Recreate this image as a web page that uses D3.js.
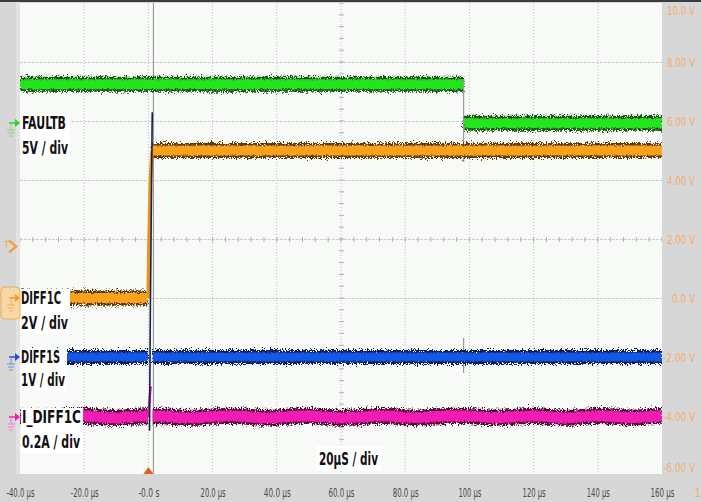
<!DOCTYPE html>
<html><head><meta charset="utf-8">
<script src="https://cdn.jsdelivr.net/npm/d3@7"></script>
<style>
html,body{margin:0;padding:0;background:#fff;}
svg{display:block;}
</style></head><body>
<svg id="c" width="701" height="502"></svg>
<script>
// ---------------- data ----------------
const xTickValues = [-40,-20,0,20,40,60,80,100,120,140,160];
const xTickLabels = ["-40.0 µs","-20.0 µs","-0.0 s","20.0 µs","40.0 µs","60.0 µs","80.0 µs","100 µs","120 µs","140 µs","160 µs"];
const yTickValues = [10,8,6,4,2,0,-2,-4,-6];
const yTickLabels = ["10.0 V","8.00 V","6.00 V","4.00 V","2.00 V","0.0 V","-2.00 V","-4.00 V","-6.00 V"];
const channelNames  = ["FAULTB","DIFF1C","DIFF1S","I_DIFF1C"];
const channelScales = ["5V / div","2V / div","1V / div","0.2A / div"];
const timebaseLabel = "20µS / div";

// FAULTB (green) level segments
const faultbStart = [-40, 98.2];
const faultbEnd   = [98.2, 160];
const faultbLevel = [7.25, 5.92];
// DIFF1C (orange) level segments and rising edge
const diff1cStart = [-40, 1.2];
const diff1cEnd   = [-0.1, 160];
const diff1cLevel = [0.0, 5.0];
const diff1cEdgeT = [-0.1, 0.2, 0.6, 1.1];
const diff1cEdgeV = [0.0, 2.0, 4.0, 5.0];
// DIFF1S (blue) level segments and transient spike
const diff1sStart = [-40, 1.4];
const diff1sEnd   = [-0.1, 160];
const diff1sLevel = [-2.0, -2.0];
const spikeT = [0.35, 0.6, 1.2];
const spikeV = [-4.5, -0.5, 6.3];
// I_DIFF1C (pink) samples
const pinkT = [-40,-35,-30,-25,-20,-15,-10,-5,0,5,10,15,20,25,30,35,40,45,50,55,60,65,70,75,80,85,90,95,100,105,110,115,120,125,130,135,140,145,150,155,160];
const pinkV = [-4.02,-4.06,-4.05,-4.00,-3.99,-4.04,-4.07,-4.03,-4.00,-4.01,-4.05,-4.06,-4.02,-3.99,-4.02,-4.06,-4.05,-4.01,-3.99,-4.03,-4.07,-4.04,-4.00,-4.00,-4.04,-4.06,-4.02,-3.99,-4.00,-4.04,-4.06,-4.02,-3.99,-4.03,-4.07,-4.03,-3.99,-4.02,-4.06,-4.03,-3.99];
const pinkEdgeT = [-0.1, 0.3, 0.7];
const pinkEdgeV = [-4.03, -3.5, -3.0];
// glitch marks at the FAULTB edge
const glitchT  = [98.2, 98.2];
const glitchV0 = [7.4, -1.36];
const glitchV1 = [4.61, -2.54];
// cursor / trigger
const cursorT = 1.4;
const triggerT = 0;
const trigLevel = 1.75;
const gapStart = -0.1, gapEnd = 1.35;

// ---------------- layout / style ----------------
const W = 701, H = 502;
const L = 20, R = 662, T = 3, B = 474;
const xLabelWidths = [28,28,21,25,27,26,26,23,23,23,24];
const yLabelWidths = [28,28,28,28,28,23,32,32,32];
const x = d3.scaleLinear().domain([-40,160]).range([L, R]);
const y = d3.scaleLinear().domain([-6,10]).range([475, 3]);

const svg = d3.select("#c");
const defs = svg.append("defs");
function roughFilter(id, freq, seed, scale){
  const f = defs.append("filter").attr("id",id).attr("filterUnits","userSpaceOnUse")
    .attr("x",0).attr("y",0).attr("width",W).attr("height",H);
  f.append("feTurbulence").attr("type","fractalNoise").attr("baseFrequency",freq).attr("numOctaves",2).attr("seed",seed).attr("result","n");
  f.append("feDisplacementMap").attr("in","SourceGraphic").attr("in2","n").attr("scale",scale).attr("xChannelSelector","G").attr("yChannelSelector","R");
}
roughFilter("rough","1.2 0.7",4,10);
roughFilter("rough2","0.9 0.6",9,4);

defs.append("clipPath").attr("id","plotclip").append("rect").attr("x",L).attr("y",T).attr("width",R-L).attr("height",B-T);
const gapClip = defs.append("clipPath").attr("id","gapclip");
gapClip.append("rect").attr("x",L).attr("y",T).attr("width",x(gapStart)-L).attr("height",B-T);
gapClip.append("rect").attr("x",x(gapEnd)).attr("y",T).attr("width",R-x(gapEnd)).attr("height",B-T);

// backgrounds
svg.append("rect").attr("x",0).attr("y",0).attr("width",W).attr("height",H).attr("fill","#d7d7d7");
svg.append("rect").attr("x",16).attr("y",0).attr("width",4).attr("height",B).attr("fill","#e2e2e2");
svg.append("rect").attr("x",L).attr("y",T).attr("width",R-L).attr("height",B-T).attr("fill","#f8faf8");
svg.append("rect").attr("x",0).attr("y",0).attr("width",W).attr("height",2).attr("fill","#3c3c3c");

// grid
const grid = svg.append("g").attr("clip-path","url(#plotclip)");
grid.selectAll("line.v").data(xTickValues.slice(1,-1)).join("line")
  .attr("x1",d=>x(d)).attr("x2",d=>x(d)).attr("y1",T).attr("y2",B)
  .attr("stroke","#bdbdbd").attr("stroke-width",1).attr("stroke-dasharray","1,2");
grid.selectAll("line.h").data(yTickValues.slice(1,-1)).join("line")
  .attr("x1",L).attr("x2",R).attr("y1",d=>y(d)+0.5).attr("y2",d=>y(d)+0.5)
  .attr("stroke","#cfcfcf").attr("stroke-width",1).attr("stroke-dasharray","3,1");
const minorX = d3.range(-40,160.01,4);
grid.selectAll("line.mx").data(minorX).join("line")
  .attr("x1",d=>x(d)).attr("x2",d=>x(d)).attr("y1",y(2)-2).attr("y2",y(2)+3)
  .attr("stroke","#b0b0b0");
const minorY = d3.range(-6,10.01,0.4);
grid.selectAll("line.my").data(minorY).join("line")
  .attr("x1",x(60)-2).attr("x2",x(60)+3).attr("y1",d=>y(d)).attr("y2",d=>y(d))
  .attr("stroke","#b0b0b0");

// cursor line
svg.append("line").attr("x1",x(cursorT)+0.5).attr("x2",x(cursorT)+0.5).attr("y1",T).attr("y2",B)
  .attr("stroke","#8e8e8e").attr("stroke-width",1);

const line = d3.line().x(d=>x(d[0])).y(d=>y(d[1]));
const traces = svg.append("g").attr("clip-path","url(#plotclip)");

function band(pts, bright, dark, w, clip){
  const g = traces.append("g");
  if (clip) g.attr("clip-path","url(#gapclip)");
  g.append("path").attr("d",line(pts)).attr("fill","none").attr("stroke",dark)
    .attr("stroke-width",w+5).attr("filter","url(#rough)");
  g.append("path").attr("d",line(pts)).attr("fill","none").attr("stroke",bright)
    .attr("stroke-width",w).attr("filter","url(#rough2)");
}
function segs(s,e,l){ return s.map((d,i)=>[[s[i],l[i]],[e[i],l[i]]]); }

// FAULTB
segs(faultbStart,faultbEnd,faultbLevel).forEach(p=>band(p,"#22e61e","#1f4f12",10,false));
traces.selectAll("line.gl").data(glitchT).join("line")
  .attr("x1",d=>x(d)).attr("x2",d=>x(d)).attr("y1",(d,i)=>y(glitchV0[i])).attr("y2",(d,i)=>y(glitchV1[i]))
  .attr("stroke","#9a9a9a").attr("stroke-width",1.2);
// DIFF1C
segs(diff1cStart,diff1cEnd,diff1cLevel).forEach(p=>band(p,"#fba21c","#5e3b0e",10,false));
traces.append("path").attr("d",line(diff1cEdgeT.map((t,i)=>[t,diff1cEdgeV[i]])))
  .attr("fill","none").attr("stroke","#e8961a").attr("stroke-width",3.5);
// DIFF1S
segs(diff1sStart,diff1sEnd,diff1sLevel).forEach(p=>band(p,"#1459e6","#0b1d55",9,false));
// I_DIFF1C
band(pinkT.map((t,i)=>[t,pinkV[i]]),"#f21bb4","#4e0f33",11,true);
traces.append("path").attr("d",line(pinkEdgeT.map((t,i)=>[t,pinkEdgeV[i]])))
  .attr("fill","none").attr("stroke","#e01aa8").attr("stroke-width",2.5);
traces.append("path").attr("d",line(spikeT.map((t,i)=>[t,spikeV[i]])))
  .attr("fill","none").attr("stroke","#14224e").attr("stroke-width",1.6);

// channel labels (white boxes)
const font = "'Liberation Sans Narrow','DejaVu Sans Condensed','Liberation Sans',sans-serif";
const labelPos = [ {x:22,y1:129,y2:154,w1:44,w2:46},
                   {x:21,y1:304,y2:329,w1:40,w2:47},
                   {x:21,y1:363,y2:386,w1:39,w2:44},
                   {x:22,y1:423,y2:448,w1:59,w2:58} ];
const lab = svg.append("g");
channelNames.forEach((n,i)=>{
  const p = labelPos[i];
  lab.append("rect").attr("x",p.x-1).attr("y",p.y1-15).attr("width",Math.max(p.w1,p.w2)+3).attr("height",p.y2-p.y1+20).attr("fill","#ffffff");
  [[n,p.y1,p.w1],[channelScales[i],p.y2,p.w2]].forEach(([s,yy,w])=>{
    lab.append("text").attr("x",p.x).attr("y",yy).text(s)
      .attr("font-family",font).attr("font-size",17).attr("font-weight","bold").attr("fill","#111")
      .attr("textLength",w).attr("lengthAdjust","spacingAndGlyphs");
  });
});
lab.append("rect").attr("x",316).attr("y",446).attr("width",66).attr("height",25).attr("fill","#ffffff");
lab.append("text").attr("x",319).attr("y",465).text(timebaseLabel)
  .attr("font-family",font).attr("font-size",17).attr("font-weight","bold").attr("fill","#111")
  .attr("textLength",59).attr("lengthAdjust","spacingAndGlyphs");

// axes
const xAxis = d3.axisBottom(x).tickValues(xTickValues).tickFormat((d,i)=>xTickLabels[i]).tickSize(0);
const gx = svg.append("g").attr("transform",`translate(0,${B})`).call(xAxis);
gx.select(".domain").remove();
gx.selectAll("text").attr("font-family",font).attr("font-size",12.5).attr("fill","#4a4a4a")
  .attr("text-anchor","start").attr("x",(d,i)=>-xLabelWidths[i]/2).attr("dy",0).attr("y",23)
  .attr("textLength",(d,i)=>xLabelWidths[i]).attr("lengthAdjust","spacingAndGlyphs");
svg.append("text").attr("x",694).attr("y",497).text("1").attr("font-family",font).attr("font-size",12.5).attr("fill","#e8b07a");

const yAxis = d3.axisRight(y).tickValues(yTickValues).tickFormat((d,i)=>yTickLabels[i]).tickSize(0);
const gy = svg.append("g").attr("transform",`translate(${R},0)`).call(yAxis);
gy.select(".domain").remove();
gy.selectAll("text").attr("font-family",font).attr("font-size",12).attr("fill","#f0ad72")
  .attr("text-anchor","start").attr("x",(d,i)=>33-yLabelWidths[i]).attr("dy","0.35em")
  .attr("textLength",(d,i)=>yLabelWidths[i]).attr("lengthAdjust","spacingAndGlyphs");
gy.selectAll(".tick").filter(d=>d===10).select("text").attr("y",7);
gy.selectAll(".tick").filter(d=>d===-6).select("text").attr("y",-8);

// left channel markers
function marker(yy,col,light){
  const g = svg.append("g");
  g.append("path").attr("d",`M9,${yy}H16`).attr("stroke",col).attr("stroke-width",1.5);
  g.append("path").attr("d",`M15,${yy-4}L20,${yy}L15,${yy+4}Z`).attr("fill",col);
  g.append("path").attr("d",`M11,${yy}V${yy+7}M7,${yy+7}H15M8,${yy+10}H14M9,${yy+13}H13`)
    .attr("stroke",light).attr("stroke-width",1).attr("fill","none");
}
svg.append("rect").attr("x",1).attr("y",287).attr("width",19).attr("height",32).attr("rx",4)
  .attr("fill","#f9d8a8").attr("stroke","#efaa55");
marker(123,"#2fd22a","#7fd67a");
marker(298,"#f29a1f","#f0b060");
marker(357,"#1a55d8","#6f8fe0");
marker(417,"#ea1fae","#ee7fcc");
svg.append("path").attr("d",`M9,${y(trigLevel)-6}L16,${y(trigLevel)}L9,${y(trigLevel)+6}`)
  .attr("stroke","#f0a040").attr("stroke-width",2.5).attr("fill","none");
svg.append("path").attr("d",`M4,${y(trigLevel)-5}H9M6.5,${y(trigLevel)-5}V${y(trigLevel)+2}`)
  .attr("stroke","#f0b060").attr("stroke-width",1.2).attr("fill","none");
svg.append("path").attr("d",`M${x(triggerT)-5},${B}L${x(triggerT)},${B-7}L${x(triggerT)+5},${B}Z`).attr("fill","#f25a1e");
</script>
</body></html>
